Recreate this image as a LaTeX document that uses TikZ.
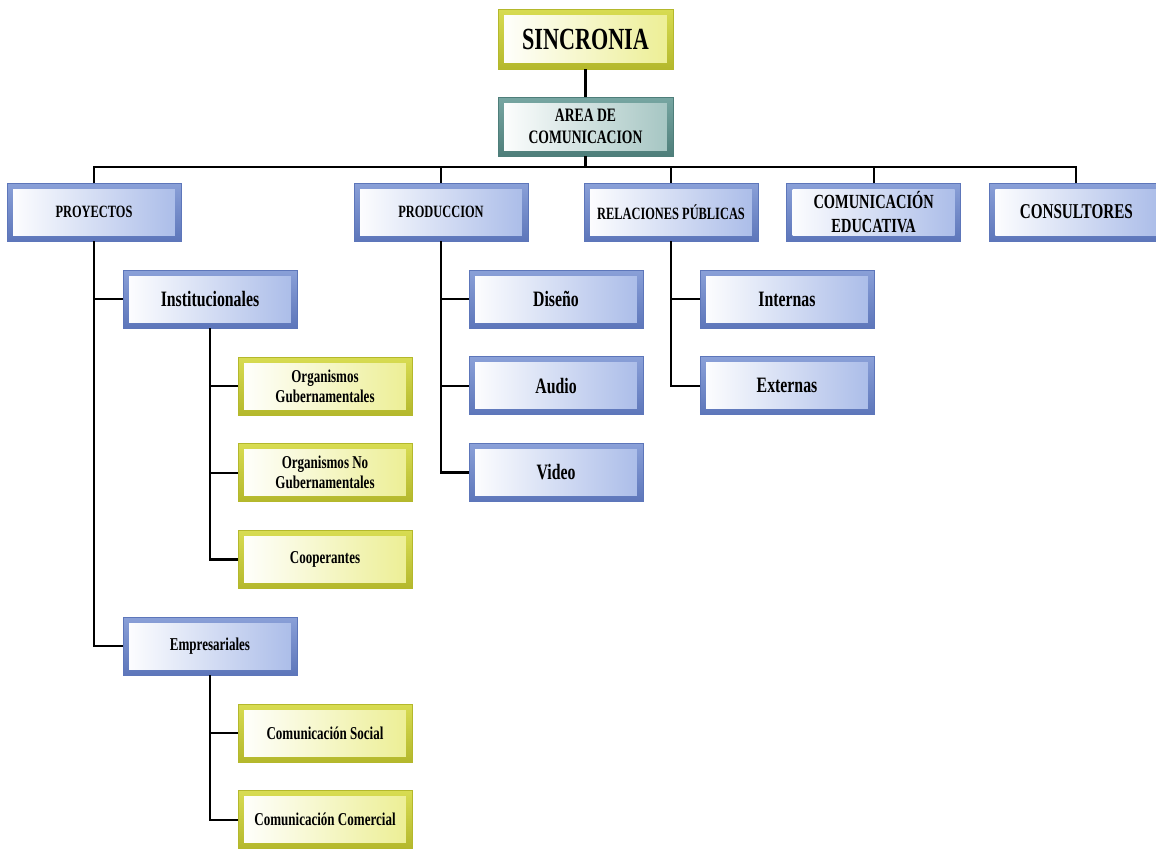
\documentclass[tikz,border=0pt]{standalone}
\usepackage{fontspec}
\newfontfamily\orgfont{Liberation Serif}[FakeStretch=0.72]
\usetikzlibrary{positioning}

\definecolor{bframe}{HTML}{8AA0D8}
\definecolor{bframedk}{HTML}{5D76BA}
\definecolor{binner}{HTML}{A9BBE8}
\definecolor{yframe}{HTML}{D8DC52}
\definecolor{yframedk}{HTML}{B4B82C}
\definecolor{yinner}{HTML}{ECEE92}
\definecolor{tframe}{HTML}{77A6A2}
\definecolor{tframedk}{HTML}{4E7E7A}
\definecolor{tinner}{HTML}{A3C4C1}

\begin{document}
\begin{tikzpicture}[
    x=0.02cm, y=-0.02cm,
    node distance=0.56cm,
    mybox/.style={
        rectangle,
        minimum width=3.48cm,
        minimum height=1.16cm,
        align=center,
        inner sep=2pt,
        top color=#1frame,
        bottom color=#1framedk,
        draw=#1framedk,
        line width=0.4pt,
        font=\orgfont\bfseries\fontsize{12.5}{14}\selectfont,
        path picture={
            \shade[left color=white, right color=#1inner]
            ([xshift=0.12cm,yshift=-0.12cm]path picture bounding box.north west)
            rectangle
            ([xshift=-0.12cm,yshift=0.12cm]path picture bounding box.south east);
        }
    },
    mycaps/.style={font=\orgfont\bfseries\fontsize{9.8}{12}\selectfont},
    mysmall/.style={font=\orgfont\bfseries\fontsize{10.3}{11.5}\selectfont},
    myline/.style={
        line width=1.3pt,
        black
    }
]
\useasboundingbox (0,0) rectangle (1156,849);

\node (sinc) [mybox=y, minimum width=3.5cm, minimum height=1.2cm, font=\orgfont\bfseries\fontsize{17.5}{19}\selectfont] at (585.5,39) {SINCRONIA};
\node (area) [mybox=t, minimum width=3.5cm, minimum height=1.18cm, font=\orgfont\bfseries\fontsize{10.8}{12.5}\selectfont] at (585.5,126.5) {AREA DE\\COMUNICACION};

\node (proy) [mybox=b, mycaps] at (94,212) {PROYECTOS};
\node (prod) [mybox=b, mycaps] at (441,212) {PRODUCCION};
\node (rrpp) [mybox=b, mycaps] at (671,212) {RELACIONES PÚBLICAS};
\node (cedu) [mybox=b, right=of rrpp, font=\orgfont\bfseries\fontsize{11.4}{14}\selectfont] {COMUNICACIÓN\\EDUCATIVA};
\node (cons) [mybox=b, right=of cedu, font=\orgfont\bfseries\fontsize{12}{13}\selectfont] {CONSULTORES};

\node (inst) [mybox=b] at (210,299) {Institucionales};
\node (orgg) [mybox=y, mysmall] at (325,386) {Organismos\\Gubernamentales};
\node (orgn) [mybox=y, mysmall, below=of orgg] {Organismos No\\Gubernamentales};
\node (coop) [mybox=y, mysmall, below=of orgn] {Cooperantes};
\node (empr) [mybox=b, mysmall] at (210,646) {Empresariales};
\node (csoc) [mybox=y, mysmall] at (325,733) {Comunicación Social};
\node (ccom) [mybox=y, mysmall, below=of csoc] {Comunicación Comercial};

\node (dise) [mybox=b] at (556,299) {Diseño};
\node (audi) [mybox=b, below=of dise] {Audio};
\node (vide) [mybox=b, below=of audi] {Video};
\node (inte) [mybox=b] at (787,299) {Internas};
\node (exte) [mybox=b, below=of inte] {Externas};

\coordinate (bus) at (585.5,167);

\draw [myline] (sinc) -- (area);
\draw [myline] (area.south) -- (bus);
\draw [myline] (bus) -| (proy.north);
\draw [myline] (bus) -| (prod.north);
\draw [myline] (bus) -| (rrpp.north);
\draw [myline] (bus) -| (cedu.north);
\draw [myline] (bus) -| (cons.north);

\draw [myline] (proy.south) |- (inst.west);
\draw [myline] (proy.south) |- (empr.west);
\draw [myline] (inst.south) |- (orgg.west);
\draw [myline] (inst.south) |- (orgn.west);
\draw [myline] (inst.south) |- (coop.west);
\draw [myline] (empr.south) |- (csoc.west);
\draw [myline] (empr.south) |- (ccom.west);

\draw [myline] (prod.south) |- (dise.west);
\draw [myline] (prod.south) |- (audi.west);
\draw [myline] (prod.south) |- (vide.west);
\draw [myline] (rrpp.south) |- (inte.west);
\draw [myline] (rrpp.south) |- (exte.west);
\end{tikzpicture}
\end{document}
